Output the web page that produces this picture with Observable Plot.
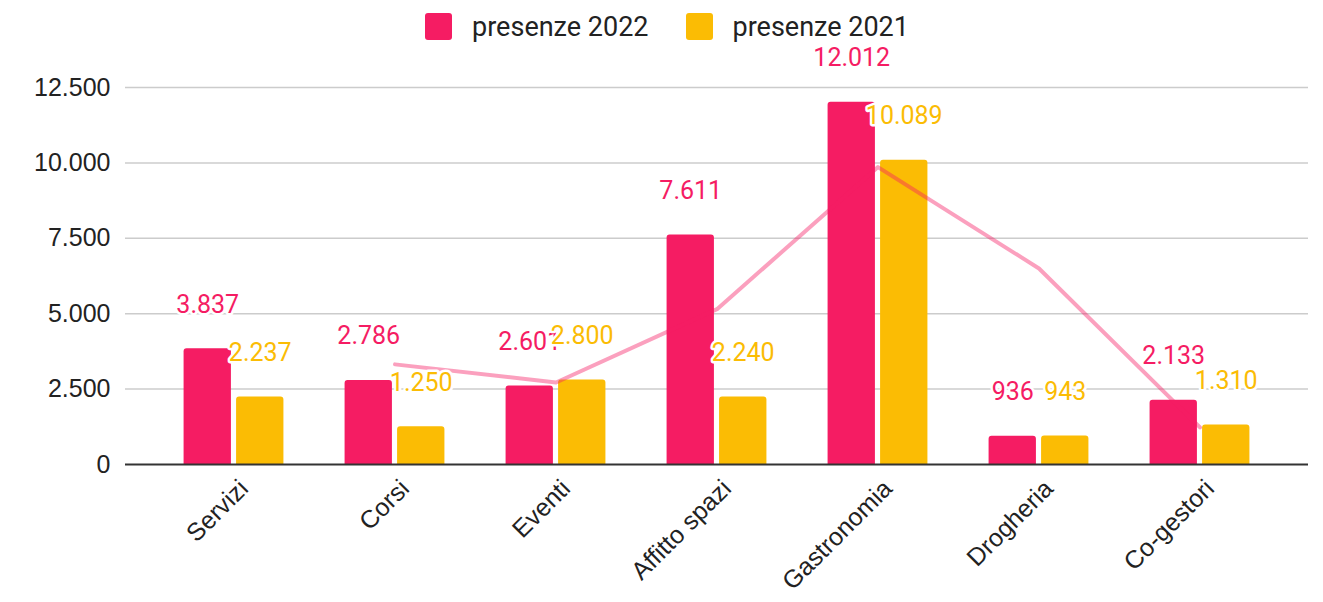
<!DOCTYPE html>
<html><head><meta charset="utf-8">
<script src="https://cdn.jsdelivr.net/npm/d3@7"></script>
<script src="https://cdn.jsdelivr.net/npm/@observablehq/plot@0.6"></script>
<style>
body{margin:0;background:#fff;}
#legend{height:40px;display:flex;justify-content:center;align-items:flex-start;padding-left:11px;box-sizing:border-box;font-family:Roboto,"Liberation Sans",sans-serif;font-size:27px;color:#222;overflow:visible;}
.item{display:flex;align-items:center;margin-top:13px;height:27px;}
.sw{width:27px;height:27px;border-radius:3px;margin-right:20px;}
.item + .item{margin-left:37px;}
#chart svg{overflow:visible;}
</style>
</head><body>
<div id="legend"></div>
<div id="chart"></div>
<script>
const categories = ["Servizi","Corsi","Eventi","Affitto spazi","Gastronomia","Drogheria","Co-gestori"];
const presenze2022 = [3837,2786,2601,7611,12012,936,2133];
const presenze2021 = [2237,1250,2800,2240,10089,943,1310];
const trendValues = [null,3320,2720,5150,9860,6500,1230];
const yTicks = [0,2500,5000,7500,10000,12500];
const seriesNames = ["presenze 2022","presenze 2021"];
const seriesColors = ["#f51c63","#fbbc04"];

const loc = d3.formatLocale({decimal:",", thousands:".", grouping:[3], currency:["","€"]});
const fmt = loc.format(",d");

const legend = document.getElementById("legend");
seriesNames.forEach((n,i)=>{
  const it=document.createElement("div"); it.className="item";
  const sw=document.createElement("div"); sw.className="sw"; sw.style.background=seriesColors[i];
  const tx=document.createElement("span"); tx.textContent=n;
  it.appendChild(sw); it.appendChild(tx); legend.appendChild(it);
});

const rows = categories.map((c,i)=>({category:c, v2022:presenze2022[i], v2021:presenze2021[i], trend:trendValues[i]}));

const W=1323, H=562, ml=125, mr=15, mt=47, mb=138;
const padOuter=0.17;
const step=(W-ml-mr)/(categories.length+2*padOuter);
const barW=47.5, gap=2.5;
const off = gap + barW/2;

const chart = Plot.plot({
  width:W, height:H, marginLeft:ml, marginRight:mr, marginTop:mt, marginBottom:mb,
  style:{fontFamily:"Liberation Sans, Arial, sans-serif", background:"#fff", overflow:"visible"},
  x:{type:"band", domain:categories, paddingInner:0, paddingOuter:padOuter, label:null},
  y:{domain:[0,12500], label:null},
  marks:[
    Plot.ruleY(yTicks.filter(d=>d>0), {stroke:"#cccccc", strokeWidth:1.5}),
    Plot.barY(rows, {x:"category", y:"v2022", fill:seriesColors[0], insetLeft:step/2-gap-barW, insetRight:step/2+gap, ry1:3}),
    Plot.barY(rows, {x:"category", y:"v2021", fill:seriesColors[1], insetLeft:step/2+gap, insetRight:step/2-gap-barW, ry1:3}),
    Plot.ruleY([0], {stroke:"#333", strokeWidth:2}),
    Plot.line(rows.filter(r=>r.trend!=null), {x:"category", y:"trend", stroke:seriesColors[0], strokeOpacity:0.42, strokeWidth:4}),
    Plot.text(rows, {x:"category", y:"v2022", text:d=>fmt(d.v2022), dx:-off, dy:-44, fill:seriesColors[0], stroke:"white", strokeWidth:5, paintOrder:"stroke", fontSize:25, fontFamily:"Roboto"}),
    Plot.text(rows, {x:"category", y:"v2021", text:d=>fmt(d.v2021), dx:off, dy:-44, fill:seriesColors[1], stroke:"white", strokeWidth:5, paintOrder:"stroke", fontSize:25, fontFamily:"Roboto"}),
    Plot.axisY({ticks:yTicks, tickFormat:fmt, tickSize:0, tickPadding:15, fontSize:25, color:"#222", label:null}),
    Plot.axisX({tickRotate:-45, tickSize:0, tickPadding:20, dx:10, fontSize:25, color:"#222", label:null})
  ]
});
document.getElementById("chart").appendChild(chart);
</script>
</body></html>
